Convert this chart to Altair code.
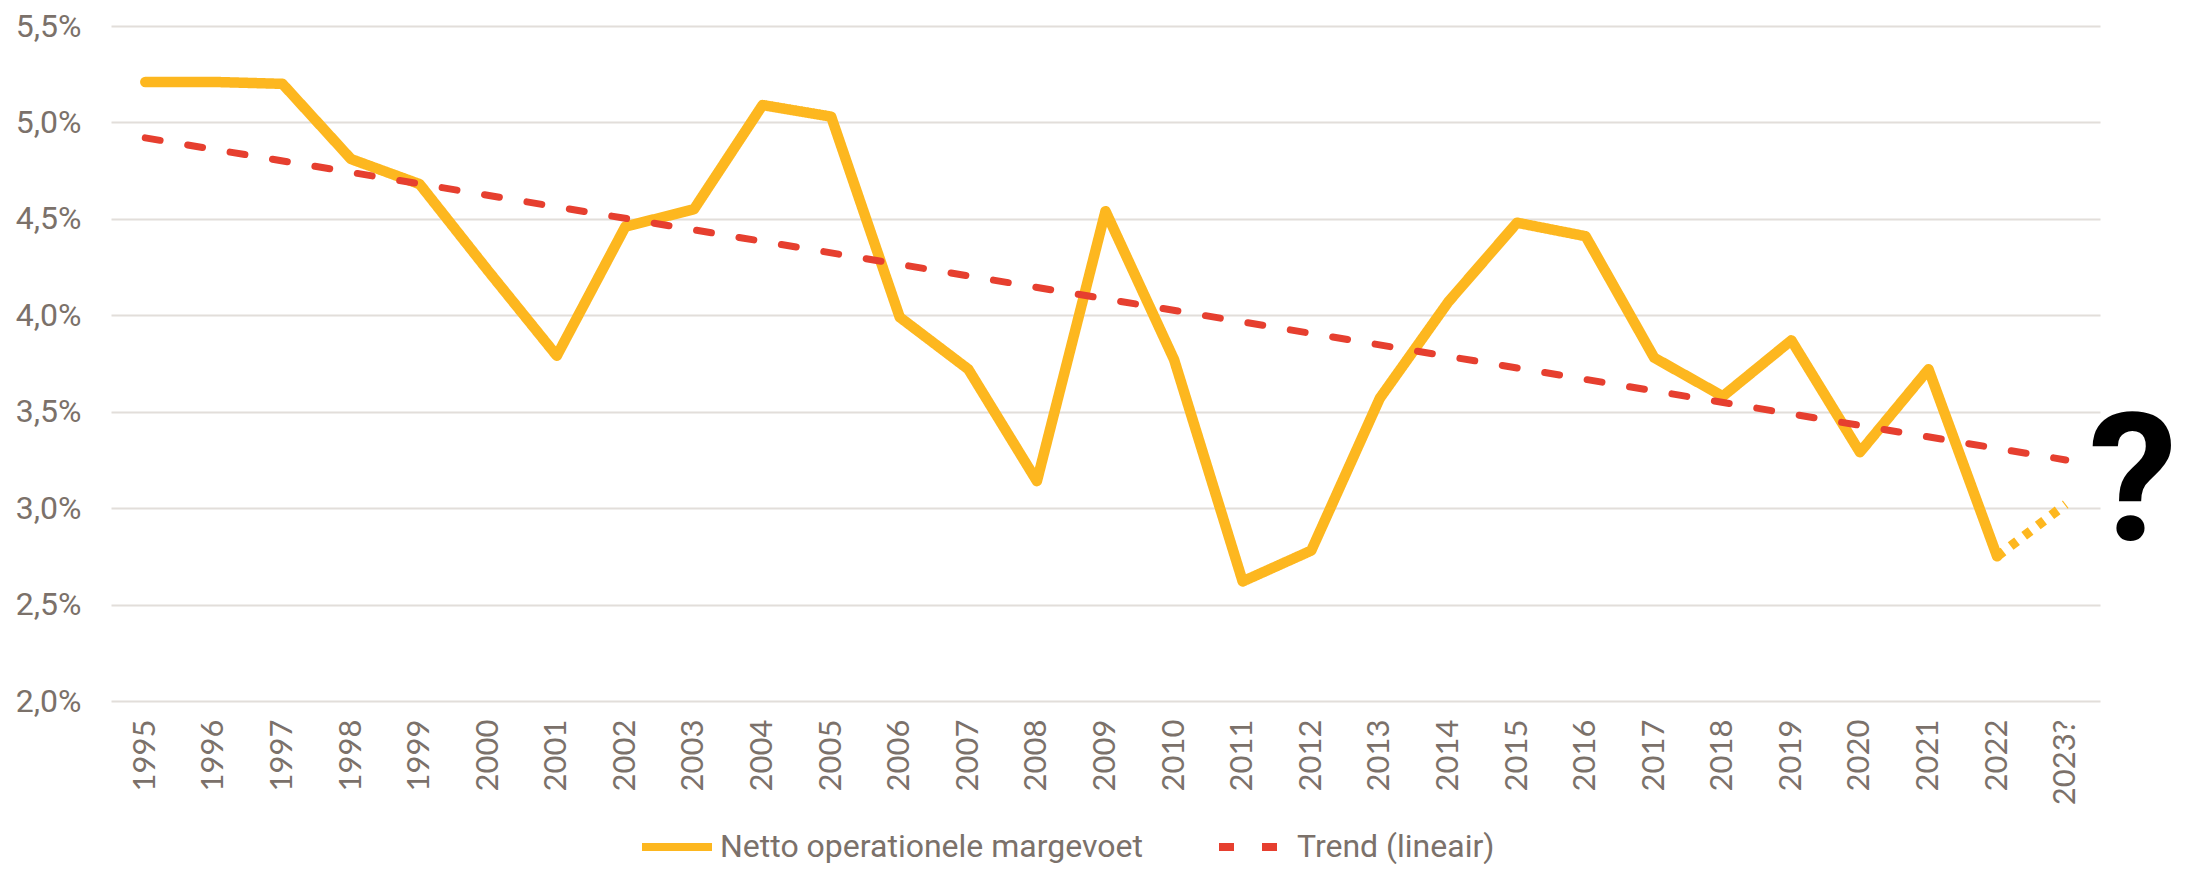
import altair as alt
import pandas as pd

# ---- data ----
years = ["1995", "1996", "1997", "1998", "1999", "2000", "2001", "2002", "2003", "2004",
         "2005", "2006", "2007", "2008", "2009", "2010", "2011", "2012", "2013", "2014",
         "2015", "2016", "2017", "2018", "2019", "2020", "2021", "2022"]
margin = [5.21, 5.21, 5.20, 4.81, 4.68, 4.23, 3.79, 4.46, 4.55, 5.09,
          5.03, 3.99, 3.72, 3.14, 4.54, 3.77, 2.62, 2.78, 3.57, 4.07,
          4.48, 4.41, 3.78, 3.58, 3.87, 3.29, 3.72, 2.75]
categories = years + ["2023?"]

projection_years = ["2022", "2023?"]
projection_values = [2.75, 3.02]

trend_years = ["1995", "2023?"]
trend_values = [4.92, 3.25]

series_names = ["Netto operationele margevoet", "Trend (lineair)"]
series_colors = ["#FDB71F", "#E63F2F"]
y_ticks = [2.0, 2.5, 3.0, 3.5, 4.0, 4.5, 5.0, 5.5]

GRAY = "#7B716A"

main_df = pd.DataFrame({"jaar": years, "waarde": margin, "reeks": series_names[0]})
trend_df = pd.DataFrame({"jaar": trend_years, "waarde": trend_values, "reeks": series_names[1]})
proj_df = pd.DataFrame({"jaar": projection_years, "waarde": projection_values})

x_enc = alt.X(
    "jaar:N",
    sort=categories,
    scale=alt.Scale(type="point", domain=categories, padding=0.5),
    axis=alt.Axis(
        title=None, labelAngle=270, labelFont="Lato", labelFontSize=31,
        labelColor=GRAY, ticks=False, tickSize=0, domain=False, grid=False,
        labelPadding=18,
    ),
)
y_enc = alt.Y(
    "waarde:Q",
    scale=alt.Scale(domain=[2.0, 5.5], nice=False, zero=False),
    axis=alt.Axis(
        title=None, values=y_ticks,
        labelExpr="replace(format(datum.value, '.1f'), '.', ',') + '%'",
        labelFont="Roboto", labelFontSize=32, labelColor=GRAY,
        ticks=False, tickSize=0, domain=False, labelPadding=30,
        grid=True, gridColor="#E2DEDA", gridWidth=2,
    ),
)
color_enc = alt.Color(
    "reeks:N",
    scale=alt.Scale(domain=series_names, range=series_colors),
    legend=alt.Legend(title=None),
)
dash_enc = alt.StrokeDash(
    "reeks:N",
    scale=alt.Scale(domain=series_names, range=[[1, 0], [15, 28]]),
    legend=alt.Legend(title=None),
)

main_line = alt.Chart(main_df).mark_line(
    strokeWidth=10.5, strokeCap="round", strokeJoin="round"
).encode(x=x_enc, y=y_enc, color=color_enc, strokeDash=dash_enc)

proj_line = alt.Chart(proj_df).mark_line(
    strokeWidth=9.5, strokeDash=[8, 9], color=series_colors[0]
).encode(x=x_enc, y=y_enc)

trend_line = alt.Chart(trend_df).mark_line(
    strokeWidth=7, strokeCap="round"
).encode(x=x_enc, y=y_enc, color=color_enc, strokeDash=dash_enc)

qmark = alt.Chart(pd.DataFrame({"t": ["?"]})).mark_text(
    font="Roboto", fontWeight="bold", fontSize=178, color="#000000",
    align="center", baseline="alphabetic",
).encode(x=alt.value(2022), y=alt.value(514), text="t:N")

chart = alt.layer(main_line, proj_line, trend_line, qmark).properties(
    width=1989, height=675,
    autosize=alt.AutoSizeParams(type="none"),
    padding={"left": 103, "top": 18, "right": 77, "bottom": 163},
).configure_view(stroke=None).configure_legend(
    orient="none", legendX=527, legendY=782, direction="horizontal",
    symbolType="stroke", symbolSize=4900, symbolStrokeWidth=8,
    labelFont="Roboto", labelFontSize=32, labelColor=GRAY, labelLimit=900,
    columnPadding=60, labelOffset=4, padding=0,
)

chart.save("out.html", embed_options={"renderer": "svg", "actions": False})
